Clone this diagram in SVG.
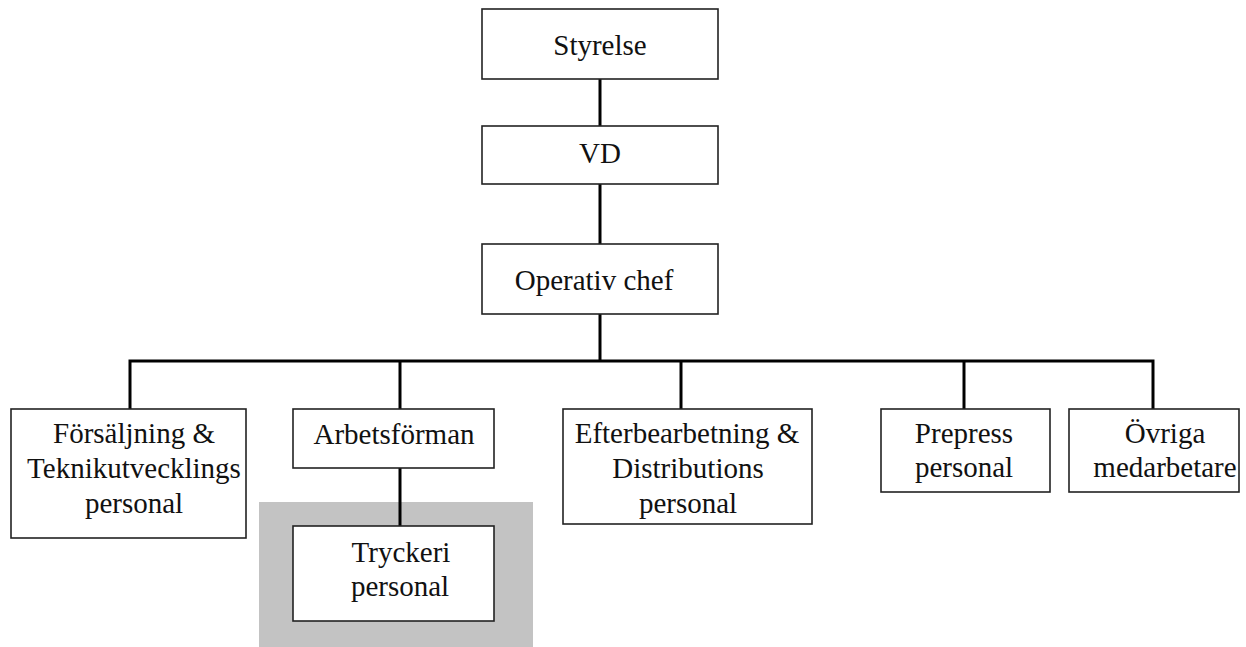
<svg xmlns="http://www.w3.org/2000/svg" width="1246" height="647" viewBox="0 0 1246 647">
<style>
.box{fill:#fff;stroke:#222;stroke-width:1.6}
.t{font-family:"Liberation Serif","Times New Roman",serif;font-size:29px;fill:#111;text-anchor:middle}
.c{stroke:#000;stroke-width:3;fill:none}
</style>
<rect x="0" y="0" width="1246" height="647" fill="#fff"/>
<rect id="highlight" x="259" y="502" width="274" height="145" fill="#c3c3c3"/>
<g id="connectors">
<line class="c" x1="600" y1="79" x2="600" y2="126"/>
<line class="c" x1="600" y1="184" x2="600" y2="244"/>
<line class="c" x1="600" y1="314" x2="600" y2="361"/>
<polyline class="c" points="130,409 130,361 1153,361 1153,409"/>
<line class="c" x1="400" y1="361" x2="400" y2="409"/>
<line class="c" x1="681" y1="361" x2="681" y2="409"/>
<line class="c" x1="964" y1="361" x2="964" y2="409"/>
<line class="c" x1="400" y1="468" x2="400" y2="526"/>
</g>
<g id="styrelse"><rect class="box" x="482" y="9" width="236" height="70"/><text class="t" x="600" y="55">Styrelse</text></g>
<g id="vd"><rect class="box" x="482" y="126" width="236" height="58"/><text class="t" x="600" y="163">VD</text></g>
<g id="operativ"><rect class="box" x="482" y="244" width="236" height="70"/><text class="t" x="594" y="290">Operativ chef</text></g>
<g id="forsaljning"><rect class="box" x="11" y="409" width="235" height="129"/><text class="t" x="134" y="443">Försäljning &amp;</text><text class="t" x="134" y="478">Teknikutvecklings</text><text class="t" x="134" y="513">personal</text></g>
<g id="arbetsforman"><rect class="box" x="293" y="409" width="201" height="59"/><text class="t" x="394" y="444">Arbetsförman</text></g>
<g id="tryckeri"><rect class="box" x="293" y="526" width="201" height="95"/><text class="t" x="401" y="562">Tryckeri</text><text class="t" x="400" y="596">personal</text></g>
<g id="efterbearbetning"><rect class="box" x="563" y="409" width="249" height="115"/><text class="t" x="687" y="443">Efterbearbetning &amp;</text><text class="t" x="688" y="478">Distributions</text><text class="t" x="688" y="513">personal</text></g>
<g id="prepress"><rect class="box" x="881" y="409" width="169" height="83"/><text class="t" x="964" y="443">Prepress</text><text class="t" x="964" y="477">personal</text></g>
<g id="ovriga"><rect class="box" x="1069" y="409" width="170" height="83"/><text class="t" x="1165" y="443">Övriga</text><text class="t" x="1165" y="477">medarbetare</text></g>
</svg>
